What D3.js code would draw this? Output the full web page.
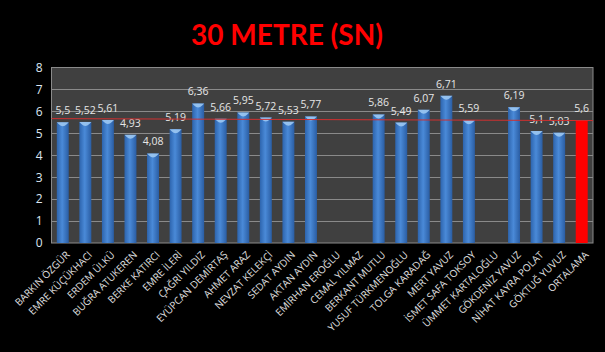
<!DOCTYPE html>
<html>
<head>
<meta charset="utf-8">
<script src="https://cdn.jsdelivr.net/npm/d3@7"></script>
<style>
  body { margin: 0; background: #000; }
  svg { display: block; }
</style>
</head>
<body>
<div id="chart"></div>
<script>
// data
var names = ["BARKIN ÖZGÜR", "EMRE KÜÇÜKHACI", "ERDEM ÜLKÜ", "BUĞRA ATUKEREN", "BERKE KATIRCI",
    "EMRE İLERİ", "ÇAĞRI YILDIZ", "EYÜPCAN DEMİRTAŞ", "AHMET ARAZ", "NEVZAT KELEKÇİ",
    "SEDAT AYDIN", "AKTAN AYDIN", "EMİRHAN EROĞLU", "CEMAL YILMAZ", "BERKANT MUTLU",
    "YUSUF TÜRKMENOĞLU", "TOLGA KARADAĞ", "MERT YAVUZ", "İSMET SAFA TOKSOY", "ÜMMET KARTALOĞLU",
    "GÖKDENİZ YAVUZ", "NİHAT KAYRA POLAT", "GÖKTUĞ YUVUZ", "ORTALAMA"];
var times = [5.5, 5.52, 5.61, 4.93, 4.08, 5.19, 6.36, 5.66, 5.95, 5.72,
    5.53, 5.77, null, null, 5.86, 5.49, 6.07, 6.71, 5.59, null,
    6.19, 5.1, 5.03, 5.6];
var yTicks = [0, 1, 2, 3, 4, 5, 6, 7, 8];
var avgLine = [5.67, 5.58]; // hand-drawn red line, slightly sloped
var title = "30 METRE (SN)";

var width = 605, height = 352;
var margin = { top: 67.5, right: 12, bottom: 109, left: 51.5 };

var svg = d3.select("#chart").append("svg")
    .attr("width", width)
    .attr("height", height);

var defs = svg.append("defs");
var grad = defs.append("linearGradient").attr("id", "barGrad")
    .attr("x1", "0%").attr("x2", "100%").attr("y1", "0%").attr("y2", "0%");
grad.append("stop").attr("offset", "0%").attr("stop-color", "#2d64ad");
grad.append("stop").attr("offset", "45%").attr("stop-color", "#4a8ad8");
grad.append("stop").attr("offset", "100%").attr("stop-color", "#2a5da3");

svg.append("text")
    .attr("x", 287)
    .attr("y", 45)
    .attr("text-anchor", "middle")
    .attr("fill", "#ff0000")
    .style("font-family", "Lato, 'Open Sans', sans-serif")
    .style("font-weight", "bold")
    .style("font-size", "28px")
    .text(title);

var x = d3.scaleBand()
    .domain(names)
    .range([margin.left, width - margin.right])
    .paddingInner(0.47)
    .paddingOuter(0.235);

var y = d3.scaleLinear()
    .domain([0, 8])
    .range([height - margin.bottom, margin.top]);

// plot area
svg.append("rect")
    .attr("x", margin.left)
    .attr("y", y(8))
    .attr("width", width - margin.right - margin.left)
    .attr("height", y(0) - y(8))
    .attr("fill", "#404040")
    .attr("stroke", "#8a8a8a")
    .attr("stroke-width", 1);

svg.append("g")
    .selectAll("line")
    .data(yTicks.filter(function(d){ return d > 0 && d < 8; }))
    .join("line")
    .attr("x1", margin.left)
    .attr("x2", width - margin.right)
    .attr("y1", function(d){ return Math.round(y(d)) + 0.5; })
    .attr("y2", function(d){ return Math.round(y(d)) + 0.5; })
    .attr("stroke", "#8a8a8a")
    .attr("stroke-width", 1);

// y axis
var yAxis = svg.append("g")
    .attr("transform", `translate(${margin.left},0)`)
    .call(d3.axisLeft(y).tickValues(yTicks).tickSize(0).tickPadding(9));
yAxis.select(".domain").remove();
yAxis.selectAll("text")
    .attr("fill", "#dde6f2")
    .style("font-family", "'Open Sans', sans-serif")
    .style("font-size", "12px");

var bw = x.bandwidth();
var data = names.map(function(n, i){ return { name: n, value: times[i], last: i === names.length - 1 }; })
    .filter(function(d){ return d.value !== null; });

// bars
var bars = svg.append("g");
bars.selectAll("rect")
    .data(data)
    .join("rect")
    .attr("x", function(d){ return x(d.name); })
    .attr("y", function(d){ return y(d.value); })
    .attr("width", bw)
    .attr("height", function(d){ return y(0) - y(d.value); })
    .attr("fill", function(d){ return d.last ? "#ff0000" : "url(#barGrad)"; });

// light cap on top of the blue bars
bars.selectAll("path")
    .data(data.filter(function(d){ return !d.last; }))
    .join("path")
    .attr("fill", "#9cc8f2")
    .attr("opacity", 0.9)
    .attr("d", function(d){
        var x0 = x(d.name), y0 = y(d.value);
        return "M" + x0 + "," + y0 + "L" + (x0 + bw) + "," + y0 +
            "L" + (x0 + bw - 2) + "," + (y0 + 2) +
            "Q" + (x0 + bw / 2) + "," + (y0 + 6) + " " + (x0 + 2) + "," + (y0 + 2) + "Z";
    });

// value labels
svg.append("g")
    .selectAll("text")
    .data(data)
    .join("text")
    .attr("x", function(d){ return x(d.name) + bw / 2; })
    .attr("y", function(d){ return y(d.value) - 8; })
    .attr("text-anchor", "middle")
    .attr("fill", "#e6e6e6")
    .style("font-family", "'Open Sans', sans-serif")
    .style("font-size", "10.5px")
    .text(function(d){ return String(d.value).replace(".", ","); });

// red average line
svg.append("line")
    .attr("x1", margin.left)
    .attr("x2", width - margin.right)
    .attr("y1", y(avgLine[0]))
    .attr("y2", y(avgLine[1]))
    .attr("stroke", "#d03030")
    .attr("stroke-width", 1);

// x labels
svg.append("g")
    .selectAll("text")
    .data(names)
    .join("text")
    .attr("transform", function(d){
        return `translate(${x(d) + bw / 2 + 5},${y(0) + 10}) rotate(-45)`;
    })
    .attr("text-anchor", "end")
    .attr("dy", "0.35em")
    .attr("fill", "#e2e2e2")
    .style("font-family", "'Open Sans', sans-serif")
    .style("font-size", "10px")
    .text(function(d){ return d; });
</script>
</body>
</html>
